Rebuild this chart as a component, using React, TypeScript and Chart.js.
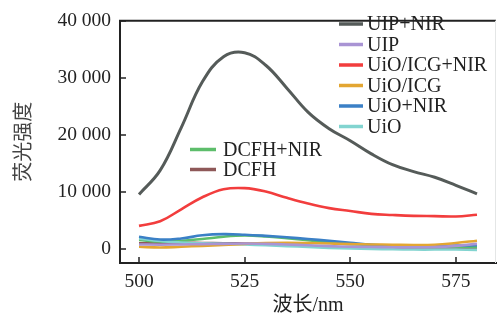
import React, { useEffect, useRef } from 'react';
import { Chart, registerables } from 'chart.js';

Chart.register(...registerables);

// ---------- data ----------
const wavelengths = [500, 505, 510, 515, 520, 525, 530, 535, 540, 545, 550, 555, 560, 565, 570, 575, 580];

const uipNir = [9600, 13800, 21300, 29300, 33700, 34400, 32200, 28200, 24000, 21100, 19000, 16700, 14800, 13600, 12600, 11200, 9700];
const uip = [850, 800, 850, 900, 950, 1000, 950, 850, 700, 550, 450, 400, 350, 350, 400, 600, 950];
const uioIcgNir = [4100, 4900, 7000, 9100, 10500, 10700, 10100, 9000, 8000, 7200, 6700, 6200, 6000, 5850, 5800, 5750, 6050];
const uioIcg = [450, 300, 450, 600, 750, 950, 1100, 1150, 1100, 1000, 900, 850, 800, 750, 800, 1100, 1500];
const uioNir = [2200, 1700, 1900, 2450, 2650, 2550, 2350, 2100, 1800, 1500, 1150, 800, 650, 600, 600, 650, 700];
const uio = [1900, 1450, 1200, 1050, 950, 850, 700, 550, 400, 250, 150, 50, 0, -50, -50, -50, -100];
const dcfhNir = [1650, 1350, 1500, 1800, 2200, 2400, 2250, 1950, 1600, 1200, 900, 750, 650, 550, 500, 450, 400];
const dcfh = [1050, 1100, 1150, 1100, 1050, 1000, 900, 750, 550, 400, 300, 250, 250, 250, 250, 200, 150];

const seriesLabels = ['UIP+NIR', 'UIP', 'UiO/ICG+NIR', 'UiO/ICG', 'UiO+NIR', 'UiO', 'DCFH+NIR', 'DCFH'];
const seriesValues = [uipNir, uip, uioIcgNir, uioIcg, uioNir, uio, dcfhNir, dcfh];
const seriesColors = ['#555b59', '#a994d4', '#f23d3d', '#e3a632', '#3b80c6', '#82d4d0', '#5dbd6b', '#8e5858'];
const legendGroup = [0, 0, 0, 0, 0, 0, 1, 1];

const xTicks = [500, 525, 550, 575];
const yTicks = [0, 10000, 20000, 30000, 40000];

const xTitle = '波长/nm';
const yTitle = '荧光强度';

// ---------- style / layout ----------
const SERIF = '"Liberation Serif", "Times New Roman", "Noto Sans CJK SC", serif';
const LEGENDS = [
  { x1: 339, x2: 363, tx: 367, y0: 24, dy: 20.5 },
  { x1: 190, x2: 216, tx: 223, y0: 149.5, dy: 20 },
];

const fmt = (v: number) => String(v).replace(/\B(?=(\d{3})+(?!\d))/g, ' ');

const framePlugin = {
  id: 'frameAndTicks',
  afterDraw(chart: any) {
    const { ctx, chartArea, scales } = chart;
    ctx.save();
    // top border
    ctx.strokeStyle = '#222';
    ctx.lineWidth = 2;
    ctx.beginPath();
    ctx.moveTo(chartArea.left - 1, chartArea.top);
    ctx.lineTo(chartArea.right, chartArea.top);
    ctx.stroke();
    // faint right border
    ctx.strokeStyle = '#e4e6e6';
    ctx.lineWidth = 1;
    ctx.beginPath();
    ctx.moveTo(chartArea.right - 0.5, chartArea.top);
    ctx.lineTo(chartArea.right - 0.5, chartArea.bottom);
    ctx.stroke();
    // inward ticks
    ctx.strokeStyle = '#222';
    ctx.lineWidth = 1.5;
    const tl = 6;
    scales.x.ticks.forEach((t: any) => {
      const px = Math.round(scales.x.getPixelForValue(t.value));
      ctx.beginPath();
      ctx.moveTo(px, chartArea.bottom);
      ctx.lineTo(px, chartArea.bottom - tl);
      ctx.stroke();
    });
    scales.y.ticks.forEach((t: any) => {
      const py = Math.round(scales.y.getPixelForValue(t.value));
      ctx.beginPath();
      ctx.moveTo(chartArea.left, py);
      ctx.lineTo(chartArea.left + tl, py);
      ctx.stroke();
    });
    // legends
    ctx.font = `20px ${SERIF}`;
    ctx.textBaseline = 'middle';
    ctx.textAlign = 'left';
    const counters = [0, 0];
    chart.data.datasets.forEach((ds: any, i: number) => {
      const g = legendGroup[i];
      const L = LEGENDS[g];
      const y = L.y0 + counters[g] * L.dy;
      counters[g]++;
      ctx.strokeStyle = ds.borderColor;
      ctx.lineWidth = 3.5;
      ctx.beginPath();
      ctx.moveTo(L.x1, y);
      ctx.lineTo(L.x2, y);
      ctx.stroke();
      ctx.fillStyle = '#222';
      ctx.fillText(ds.label, L.tx, y + 1);
    });
    ctx.restore();
  },
};

export default function App() {
  const ref = useRef<HTMLCanvasElement | null>(null);

  useEffect(() => {
    document.body.style.margin = '0';
    const canvas = ref.current;
    if (!canvas) return;
    const chart = new Chart(canvas, {
      type: 'line',
      data: {
        labels: wavelengths,
        datasets: seriesLabels.map((label, i) => ({
          label,
          data: wavelengths.map((w, j) => ({ x: w, y: seriesValues[i][j] })),
          borderColor: seriesColors[i],
          backgroundColor: seriesColors[i],
          borderWidth: i === 0 ? 3 : 2.6,
          pointRadius: 0,
          tension: 0.4,
          fill: false,
        })),
      },
      options: {
        animation: false,
        responsive: true,
        maintainAspectRatio: false,
        layout: { padding: { left: 0, top: 14, right: 1, bottom: 0 } },
        plugins: {
          legend: { display: false },
          tooltip: { enabled: false },
        },
        scales: {
          x: {
            type: 'linear',
            min: 495.5,
            max: 584.5,
            afterBuildTicks: (s: any) => { s.ticks = xTicks.map((v) => ({ value: v })); },
            afterFit: (s: any) => { s.height = 66; },
            grid: { display: true, drawOnChartArea: false, drawTicks: false },
            border: { display: true, color: '#222', width: 2 },
            ticks: {
              color: '#222',
              font: { family: SERIF, size: 19.5 },
              padding: 7,
              maxRotation: 0,
              callback: (v: any) => String(v),
            },
            title: {
              display: true,
              text: xTitle,
              color: '#222',
              font: { family: SERIF, size: 20 },
              padding: { top: 0, bottom: 11 },
            },
          },
          y: {
            type: 'linear',
            min: -2400,
            max: 40000,
            afterBuildTicks: (s: any) => { s.ticks = yTicks.map((v) => ({ value: v })); },
            afterFit: (s: any) => { s.width = 120; },
            grid: { display: true, drawOnChartArea: false, drawTicks: false },
            border: { display: true, color: '#222', width: 2 },
            ticks: {
              color: '#222',
              font: { family: SERIF, size: 19.5 },
              padding: 9,
              callback: (v: any) => fmt(Number(v)),
            },
            title: {
              display: true,
              text: yTitle,
              color: '#444',
              font: { family: SERIF, size: 20 },
              padding: { top: 13, bottom: 0 },
            },
          },
        },
      },
      plugins: [framePlugin],
    });
    return () => chart.destroy();
  }, []);

  return (
    <div style={{ position: 'fixed', left: 0, top: 0, width: 497, height: 329, background: '#fff' }}>
      <canvas ref={ref} />
    </div>
  );
}
